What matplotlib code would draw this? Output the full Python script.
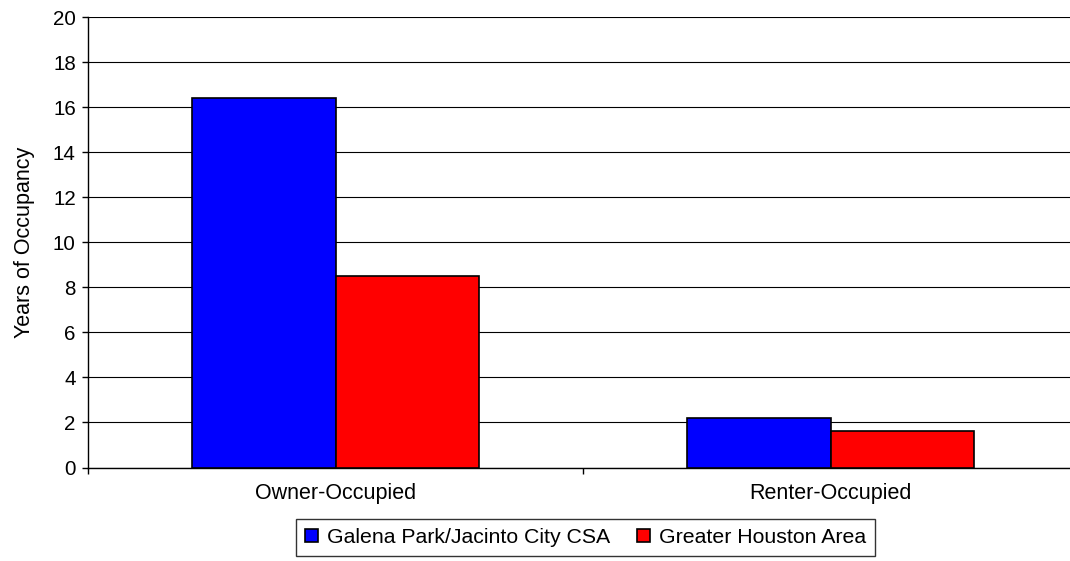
import matplotlib
matplotlib.use("Agg")
import matplotlib.pyplot as plt
import numpy as np
from matplotlib.patches import Patch

categories = ["Owner-Occupied", "Renter-Occupied"]
series_names = ["Galena Park/Jacinto City CSA", "Greater Houston Area"]
galena = [16.4, 2.2]
houston = [8.5, 1.6]
colors = ["#0000FF", "#FF0000"]
yticks = [0, 2, 4, 6, 8, 10, 12, 14, 16, 18, 20]

plt.rcParams['font.family'] = ['Liberation Sans', 'DejaVu Sans']

fig = plt.figure(figsize=(10.70, 5.61), dpi=100)
ax = fig.add_axes([88/1070, 1 - 467.5/561, 990/1070, 450.2/561])

x = np.arange(len(categories))
w = 0.289
ax.bar(x - w/2, galena, width=w, color=colors[0], edgecolor='black', linewidth=1.2, zorder=3)
ax.bar(x + w/2, houston, width=w, color=colors[1], edgecolor='black', linewidth=1.2, zorder=3)

ax.set_xlim(-0.5, len(categories) - 0.5)
ax.set_ylim(0, 20)
ax.set_yticks(yticks)
ax.set_yticklabels([str(v) for v in yticks], fontsize=14.8)
ax.yaxis.grid(True, color='black', linewidth=0.8, zorder=0)
ax.set_axisbelow(True)

ax.set_xticks(x)
ax.set_xticklabels(categories, fontsize=15.5)
ax.tick_params(axis='x', length=0, pad=11)
ax.set_xticks([-0.5, 0.5, 1.5], minor=True)
ax.tick_params(axis='x', which='minor', length=4.3, width=1, color='black', direction='out')
ax.tick_params(axis='y', length=4.3, width=1, direction='out', pad=4.5)

for s in ['top', 'right']:
    ax.spines[s].set_visible(False)
ax.spines['left'].set_linewidth(1)
ax.spines['bottom'].set_linewidth(1)

ax.set_ylabel("Years of Occupancy", fontsize=15.5, labelpad=13)

handles = [Patch(facecolor=colors[i], edgecolor='black', linewidth=1.2) for i in range(2)]
leg = fig.legend(handles, series_names, loc='upper center', bbox_to_anchor=(585.5/1070, 1 - 519/561),
                 ncol=2, fontsize=15.3, frameon=True, fancybox=False, edgecolor='black',
                 handlelength=0.6, handleheight=0.6, handletextpad=0.45, columnspacing=1.25,
                 borderpad=0.42, borderaxespad=0)
leg.get_frame().set_linewidth(1)

fig.savefig("out.png", dpi=100)
